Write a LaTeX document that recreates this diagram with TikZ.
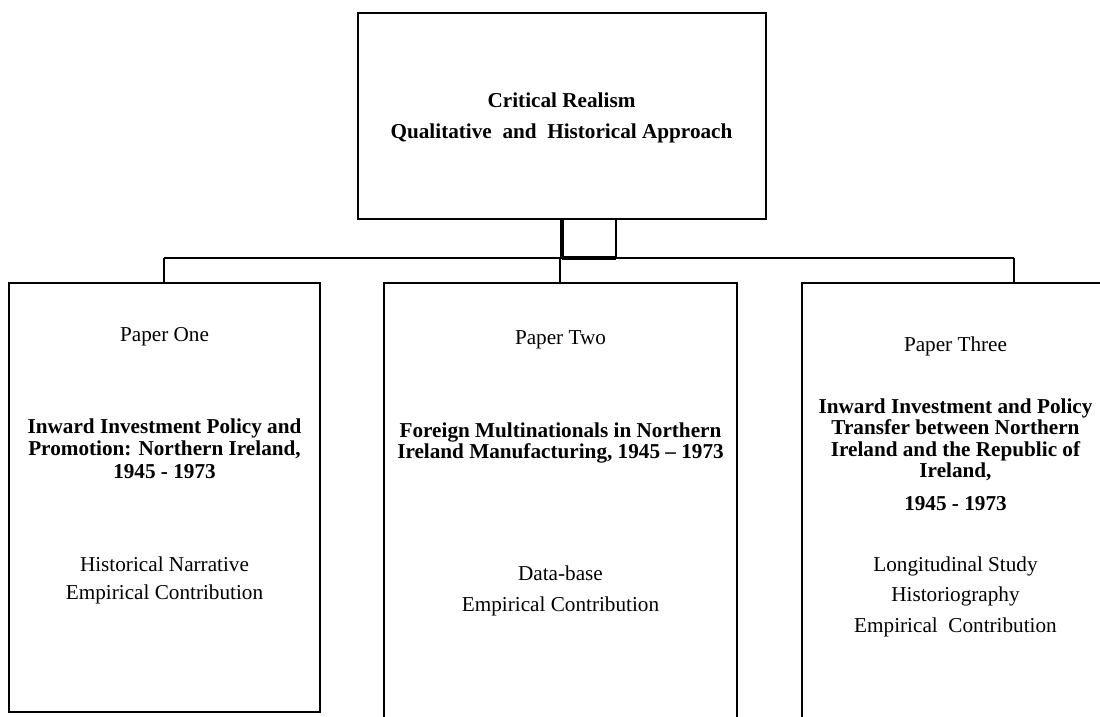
\documentclass[tikz,border=0pt]{standalone}
\usepackage{fontspec}
\setmainfont{Liberation Serif}
\usetikzlibrary{fit}
\begin{document}
\begin{tikzpicture}[x=0.566pt,y=-0.566pt,
  box/.style={draw,line width=1.35pt,inner sep=0pt},
  tx/.style={anchor=base,inner sep=0pt,font=\fontsize{12}{14}\selectfont},
  tb/.style={anchor=base,inner sep=0pt,font=\fontsize{12}{14}\selectfont\bfseries},
  bus/.style={line width=1.25pt},
  spine/.style={line width=2.5pt},
  thinv/.style={line width=0.9pt},
  dropm/.style={line width=0.9pt}]
\useasboundingbox (0,0) rectangle (1100,716);
\clip (0,0) rectangle (1100,716);
% boxes
\node[box,fit={(358,13) (766,219)}] (top) {};
\node[box,fit={(9,283) (320,712)}] (left) {};
\node[box,fit={(384,283) (737,760)}] (mid) {};
\node[box,fit={(802,283) (1112,760)}] (right) {};
% connectors
\coordinate (jL) at (164,258);
\coordinate (jS) at (562,258);
\coordinate (jM) at (560,258);
\coordinate (j2) at (616,258);
\coordinate (jR) at (1014,258);
\draw[bus] (jL) -- (jR);
\draw[bus] (jL) -- (left.north -| jL);
\draw[dropm] (jM) -- (mid.north -| jM);
\draw[bus] (jR) -- (right.north -| jR);
\draw[spine] (top.south -| jS) -- (jS);
\draw[thinv] (top.south -| j2) -- (j2);
\draw[line width=1.8pt] (jS) -- (j2);
% top text
\node[tb] (t1) at (561.5,107) {Critical Realism};
\node[tb] (t2) at (561.5,138) {Qualitative\ \ and\ \ Historical Approach};
% left box text
\node[tx] (l0) at (164.5,341) {Paper One};
\node[tb] (l1) at (164.5,433) {Inward Investment Policy and};
\node[tb] (l2) at (164.5,455.5) {Promotion: Northern Ireland,};
\node[tb] (l3) at (164.5,478) {1945 - 1973};
\node[tx] (l4) at (164.5,571) {Historical Narrative};
\node[tx] (l5) at (164.5,599) {Empirical Contribution};
% middle box text
\node[tx] (m0) at (560.5,344) {Paper Two};
\node[tb] (m1) at (560.5,437) {Foreign Multinationals in Northern};
\node[tb] (m2) at (560.5,458.5) {Ireland Manufacturing, 1945 – 1973};
\node[tx] (m3) at (560.5,580) {Data-base};
\node[tx] (m4) at (560.5,611) {Empirical Contribution};
% right box text
\node[tx] (r0) at (955.5,351) {Paper Three};
\node[tb] (r1) at (955.5,413) {Inward Investment and Policy};
\node[tb] (r2) at (955.5,434.5) {Transfer between Northern};
\node[tb] (r3) at (955.5,456) {Ireland and the Republic of};
\node[tb] (r4) at (955.5,477.5) {Ireland,};
\node[tb] (r5) at (955.5,510) {1945 - 1973};
\node[tx] (r6) at (955.5,571) {Longitudinal Study};
\node[tx] (r7) at (955.5,601.5) {Historiography};
\node[tx] (r8) at (955.5,632) {Empirical\ \ Contribution};
\end{tikzpicture}
\end{document}
